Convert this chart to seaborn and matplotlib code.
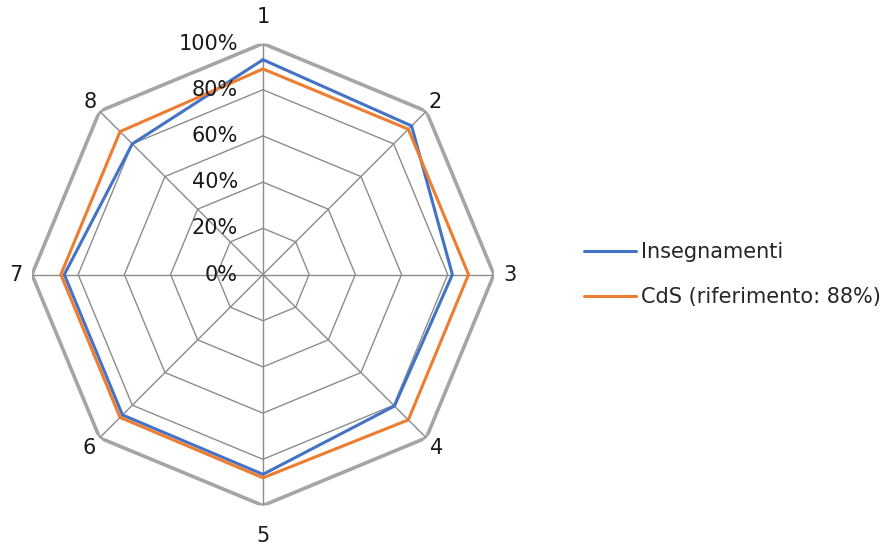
import numpy as np
import pandas as pd
import matplotlib
matplotlib.use("Agg")
import matplotlib.pyplot as plt
import seaborn as sns

categories = ["1", "2", "3", "4", "5", "6", "7", "8"]
insegnamenti = [0.93, 0.91, 0.82, 0.805, 0.865, 0.86, 0.86, 0.80]
cds = [0.89, 0.89, 0.89, 0.89, 0.88, 0.875, 0.875, 0.875]
ring_levels = [0.0, 0.2, 0.4, 0.6, 0.8, 1.0]
ring_labels = ["0%", "20%", "40%", "60%", "80%", "100%"]
series_names = ["Insegnamenti", "CdS (riferimento: 88%)"]
colors = ["#4472C4", "#ED7D31"]

sns.set_theme(style="white")
plt.rcParams["font.family"] = ["DejaVu Sans"]

n = len(categories)
theta = np.linspace(0, 2 * np.pi, n, endpoint=False)
theta_closed = np.append(theta, theta[0])

rows = []
for name, vals in zip(series_names, [insegnamenti, cds]):
    closed = list(vals) + [vals[0]]
    for i, (t, v) in enumerate(zip(theta_closed, closed)):
        rows.append({"serie": name, "theta": t, "valore": v, "ordine": i})
df = pd.DataFrame(rows)

fig = plt.figure(figsize=(8.92, 5.49), dpi=100)
ax = fig.add_axes([0.0358, 0.0792, 0.518, 0.8415], projection="polar")
ax.set_theta_zero_location("N")
ax.set_theta_direction(-1)
ax.set_ylim(0, 1)
ax.grid(False)
ax.spines["polar"].set_visible(False)
ax.set_xticks([])
ax.set_yticks([])
ax.set_facecolor("none")

# polygon grid
for lev in ring_levels[1:]:
    if lev == 1.0:
        ax.plot(theta_closed, [lev] * (n + 1), color="#A5A5A5", lw=2.6, zorder=1)
    else:
        ax.plot(theta_closed, [lev] * (n + 1), color="#8C8C8C", lw=1.0, zorder=1)
for t in theta:
    ax.plot([t, t], [0, 1], color="#8C8C8C", lw=1.0, zorder=1)

sns.lineplot(data=df, x="theta", y="valore", hue="serie", sort=False,
             estimator=None, units="serie", palette=colors, lw=2.2, ax=ax,
             legend=False, zorder=3)

# ring labels
for lev, lab in zip(ring_levels, ring_labels):
    ax.annotate(lab, xy=(0, lev), xytext=(-18, 0), textcoords="offset points",
                ha="right", va="center", fontsize=15, color="#1a1a1a")

# category labels
label_r = [1.115, 1.055, 1.07, 1.065, 1.13, 1.065, 1.07, 1.055]
for t, c, r in zip(theta, categories, label_r):
    ax.text(t, r, c, ha="center", va="center", fontsize=15, color="#1a1a1a")

ax.set_xlabel("")
ax.set_ylabel("")

handles = [plt.Line2D([], [], color=col, lw=2.2) for col in colors]
fig.legend(handles, series_names, loc="center left", bbox_to_anchor=(0.634, 0.5),
           frameon=False, fontsize=15, handlelength=2.5, handletextpad=0.2,
           labelspacing=1.2)

fig.savefig("out.png", dpi=100)
